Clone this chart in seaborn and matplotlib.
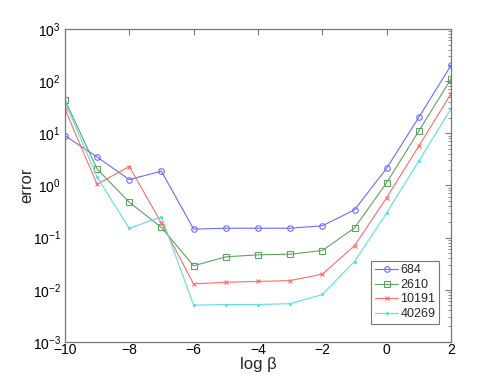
import matplotlib
matplotlib.use('Agg')
import matplotlib.pyplot as plt
import seaborn as sns
import pandas as pd
from matplotlib.ticker import LogLocator, NullFormatter

# 데이터
log_beta = [-10, -9, -8, -7, -6, -5, -4, -3, -2, -1, 0, 1, 2]
err_684 = [9.0, 3.5, 1.29, 1.87, 0.145, 0.151, 0.151, 0.151, 0.168, 0.34, 2.14, 20.3, 201]
err_2610 = [43.5, 2.07, 0.476, 0.156, 0.0287, 0.0427, 0.0466, 0.048, 0.0563, 0.153, 1.13, 11.1, 110]
err_10191 = [29.3, 1.05, 2.3, 0.19, 0.0129, 0.0139, 0.0144, 0.015, 0.0199, 0.070, 0.585, 5.7, 57.5]
err_40269 = [40.4, 1.45, 0.15, 0.25, 0.00505, 0.0052, 0.0052, 0.0054, 0.0081, 0.0347, 0.30, 2.95, 29.7]

series_names = ['684', '2610', '10191', '40269']
series_values = [err_684, err_2610, err_10191, err_40269]
colors = ['#6b6bff', '#5fa35f', '#ff6b6b', '#5fdede']
markers = ['o', 's', 'x', '.']
marker_sizes = [4, 4, 3, 3]

sns.set_style('white')
plt.rcParams['font.family'] = ['Liberation Sans', 'DejaVu Sans']

fig = plt.figure(figsize=(4.99, 3.85), dpi=100)
ax = fig.add_axes([0.130, 0.112, 0.774, 0.813])

for name, vals, c, m, ms in zip(series_names, series_values, colors, markers, marker_sizes):
    df = pd.DataFrame({'log_beta': log_beta, 'error': vals})
    sns.lineplot(data=df, x='log_beta', y='error', ax=ax, color=c, marker=m,
                 markersize=ms, markerfacecolor='none' if m in 'os' else c,
                 markeredgecolor=c, markeredgewidth=0.8, linewidth=0.8, label=name)

ax.set_yscale('log')
ax.set_xlim(-10, 2)
ax.set_ylim(1e-3, 1e3)
ax.set_xticks([-10, -8, -6, -4, -2, 0, 2])
ax.set_xticklabels(['\u221210', '\u22128', '\u22126', '\u22124', '\u22122', '0', '2'])
ax.yaxis.set_major_locator(LogLocator(base=10, numticks=10))
ax.yaxis.set_minor_locator(LogLocator(base=10, subs=range(2, 10), numticks=10))
ax.yaxis.set_minor_formatter(NullFormatter())

ax.tick_params(which='both', direction='in', top=True, right=True, colors='#777777',
               labelcolor='black', labelsize=10)
ax.tick_params(axis='x', pad=1)
ax.tick_params(axis='y', pad=3)
ax.tick_params(which='major', length=4)
ax.tick_params(which='minor', length=2)
for sp in ax.spines.values():
    sp.set_color('#777777')
    sp.set_linewidth(0.9)

ax.set_xlabel('log \u03b2', fontsize=12, labelpad=0)
ax.set_ylabel('error', fontsize=12)
ax.yaxis.set_label_coords(-0.078, 0.5)

leg = ax.legend(loc='lower right', bbox_to_anchor=(0.969, 0.058), fontsize=9,
                frameon=True, fancybox=False, handlelength=1.9, borderpad=0.3,
                labelspacing=0.2, handletextpad=0.15, borderaxespad=0)
leg.get_frame().set_edgecolor('#555555')
leg.get_frame().set_linewidth(0.8)

plt.savefig('out.png', dpi=100)
